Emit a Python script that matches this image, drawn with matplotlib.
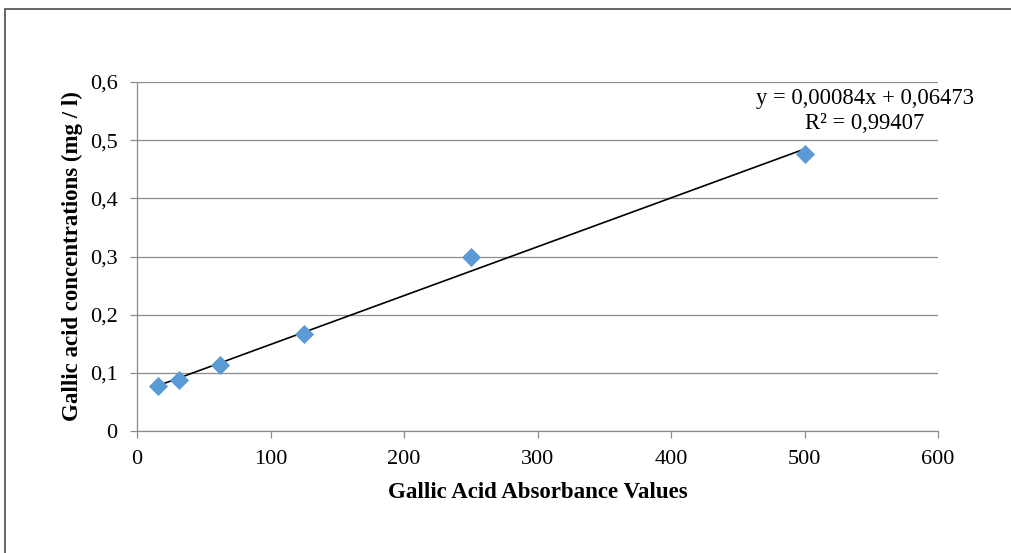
import numpy as np
import matplotlib.pyplot as plt
from matplotlib.patches import Rectangle

# absorbance values (x) and concentrations (y)
absorbance = [15.625, 31.25, 62.5, 125, 250, 500]
concentration = [0.078, 0.087, 0.114, 0.166, 0.300, 0.476]

# trendline from the chart
slope = 0.00084
intercept = 0.06473
r2_text = "0,99407"

x_ticks = [0, 100, 200, 300, 400, 500, 600]
y_ticks = [0, 0.1, 0.2, 0.3, 0.4, 0.5, 0.6]
y_tick_labels = ["0", "0,1", "0,2", "0,3", "0,4", "0,5", "0,6"]

plt.rcParams['font.family'] = ['Liberation Serif', 'DejaVu Serif']

fig = plt.figure(figsize=(10.12, 5.53), dpi=100)
ax = fig.add_axes([137 / 1012, 1 - 431 / 553, (938 - 137) / 1012, (431 - 82) / 553])

# outer frame (open at right and bottom)
fig.patches.append(Rectangle((5 / 1012, -0.1), 1.1, 1 - 9 / 553 + 0.1,
                             transform=fig.transFigure, fill=False,
                             edgecolor='#595959', linewidth=1.3))

ax.grid(axis='y', color='#8c8c8c', linewidth=0.9)
ax.set_axisbelow(True)

x_line = np.array([absorbance[0], absorbance[-1]])
ax.plot(x_line, slope * x_line + intercept, color='black', linewidth=1.2, zorder=2)
ax.scatter(absorbance, concentration, marker='D', s=95, color='#5b9bd5', zorder=3,
           linewidths=0)

ax.set_xlim(0, 600)
ax.set_ylim(0, 0.6)
ax.set_xticks(x_ticks)
ax.set_yticks(y_ticks)
ax.set_yticklabels(y_tick_labels)
ax.tick_params(labelsize=16, color='#8c8c8c', length=5, width=0.9)
ax.tick_params(axis='y', pad=9)
ax.tick_params(axis='x', pad=9)

for s in ['top', 'right']:
    ax.spines[s].set_visible(False)
for s in ['left', 'bottom']:
    ax.spines[s].set_color('#8c8c8c')
    ax.spines[s].set_linewidth(0.9)

ax.set_xlabel('Gallic Acid Absorbance Values', fontsize=16.5, fontweight='bold', labelpad=9)
ax.set_ylabel('Gallic acid concentrations (mg / l)', fontsize=16.5, fontweight='bold', labelpad=5)

eq = "y = " + f"{slope:.5f}".replace('.', ',') + "x + " + f"{intercept:.5f}".replace('.', ',')
ax.text(545, 0.55, eq + "\nR² = " + r2_text, fontsize=16.3, ha='center', va='center',
        linespacing=1.2)

fig.savefig('out.png', dpi=100)
